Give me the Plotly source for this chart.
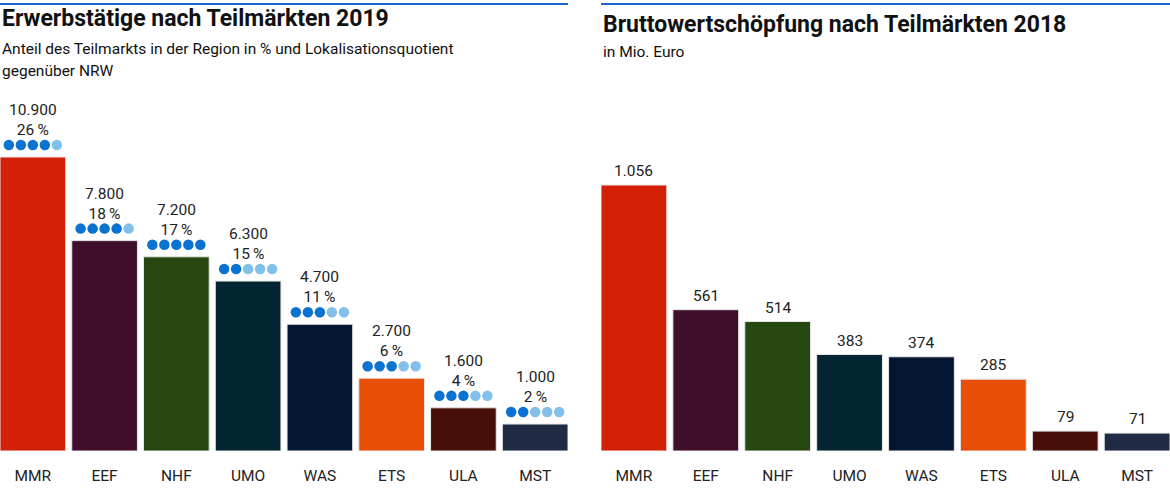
import plotly.graph_objects as go

# Daten
teilmaerkte = ["MMR", "EEF", "NHF", "UMO", "WAS", "ETS", "ULA", "MST"]
erwerbstaetige = [10900, 7800, 7200, 6300, 4700, 2700, 1600, 1000]
anteil_prozent = [26, 18, 17, 15, 11, 6, 4, 2]
lokalisationsquotient = [4, 4, 5, 2, 3, 3, 3, 2]   # gefuellte Punkte von 5
bruttowertschoepfung = [1056, 561, 514, 383, 374, 285, 79, 71]
farben = ["#d52008", "#3f0e2a", "#26470f", "#032431", "#041532", "#e84e05", "#470f07", "#1f2a44"]

W, H = 1170, 491
unten = 40
ph = H - unten            # Hoehe Plotbereich in px
dom1 = [0, 568 / W]
dom2 = [601 / W, 1]
gap = 0.085
rng_x = [-0.5 + gap / 2, 7.5 - gap / 2]

ymax1 = 10900 * ph / 294
ymax2 = 1056 * ph / 266


def de(v):
    return f"{v:,}".replace(",", ".")


fig = go.Figure()
x = list(range(len(teilmaerkte)))

fig.add_trace(go.Bar(x=x, y=erwerbstaetige, marker=dict(color=farben, line=dict(color="#e6e6e6", width=1)),
                     xaxis="x", yaxis="y", hoverinfo="skip"))
fig.add_trace(go.Bar(x=x, y=bruttowertschoepfung, marker=dict(color=farben, line=dict(color="#e6e6e6", width=1)),
                     xaxis="x2", yaxis="y2", hoverinfo="skip"))

# Punkte fuer Lokalisationsquotient
px_x = (dom1[1] - dom1[0]) * W / (rng_x[1] - rng_x[0])
px_y = ph / ymax1
dx, dy, cols = [], [], []
for i, (v, q) in enumerate(zip(erwerbstaetige, lokalisationsquotient)):
    for k in range(5):
        dx.append(i + (k - 2) * 12 / px_x)
        dy.append(v + 12 / px_y)
        cols.append("#0a72d0" if k < q else "#82c0ec")
fig.add_trace(go.Scatter(x=dx, y=dy, mode="markers", marker=dict(size=10.5, color=cols),
                         xaxis="x", yaxis="y", hoverinfo="skip"))

ann = []
for i, (v, p) in enumerate(zip(erwerbstaetige, anteil_prozent)):
    ann.append(dict(x=i, y=v, xref="x", yref="y", text=f"{de(v)}<br>{p}\u2009%", showarrow=False,
                    yanchor="bottom", yshift=17, borderpad=0, font=dict(size=15.5, color="#222")))
for i, v in enumerate(bruttowertschoepfung):
    ann.append(dict(x=i, y=v, xref="x2", yref="y2", text=de(v), showarrow=False,
                    yshift=14, font=dict(size=15.5, color="#222")))


def py(px):
    return 1 - px / ph


titel = [
    (0, 19, "<b>Erwerbstätige nach Teilmärkten 2019</b>", 23),
    (0, 49, "Anteil des Teilmarkts in der Region in % und Lokalisationsquotient", 15.5),
    (0, 71, "gegenüber NRW", 15.5),
    (601 / W, 24, "<b>Bruttowertschöpfung nach Teilmärkten 2018</b>", 23),
    (601 / W, 52, "in Mio. Euro", 15.5),
]
for xp, ypx, t, s in titel:
    ann.append(dict(x=xp, y=py(ypx), xref="paper", yref="paper", text=t, showarrow=False,
                    xanchor="left", yanchor="middle", font=dict(size=s, color="#111")))

shapes = [
    dict(type="line", xref="paper", yref="paper", x0=0, x1=dom1[1], y0=py(4), y1=py(4),
         line=dict(color="#1a66cc", width=2)),
    dict(type="line", xref="paper", yref="paper", x0=dom2[0], x1=1, y0=py(4), y1=py(4),
         line=dict(color="#1a66cc", width=2)),
]

achse_x = dict(range=rng_x, tickvals=x, ticktext=teilmaerkte, ticks="outside", ticklen=10,
               tickcolor="rgba(0,0,0,0)", showgrid=False, zeroline=False, showline=False,
               tickfont=dict(size=15.5, color="#222"), fixedrange=True)
achse_y = dict(showgrid=False, zeroline=False, showticklabels=False, showline=False, fixedrange=True)

fig.update_layout(
    width=W, height=H,
    margin=dict(l=0, r=0, t=0, b=unten),
    paper_bgcolor="white", plot_bgcolor="white",
    font=dict(family="Roboto, sans-serif"),
    showlegend=False,
    bargap=gap,
    xaxis=dict(domain=dom1, anchor="y", **achse_x),
    xaxis2=dict(domain=dom2, anchor="y2", **achse_x),
    yaxis=dict(range=[0, ymax1], anchor="x", **achse_y),
    yaxis2=dict(range=[0, ymax2], anchor="x2", **achse_y),
    annotations=ann,
    shapes=shapes,
)

fig.write_html("out.html", config=dict(displayModeBar=False),
               post_script="document.body.style.margin='0';")
